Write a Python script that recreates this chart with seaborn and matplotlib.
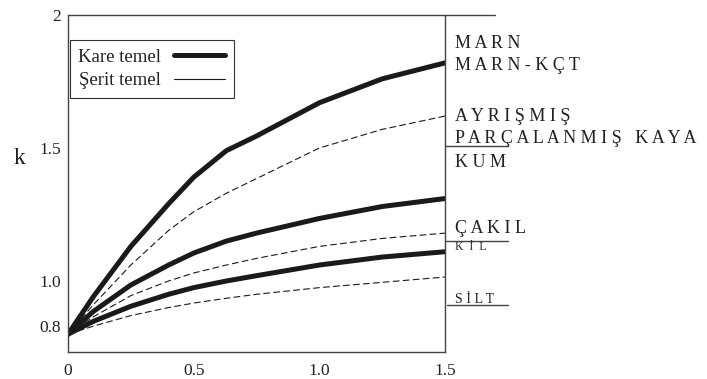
import matplotlib
matplotlib.use("Agg")
import matplotlib.pyplot as plt
import matplotlib.transforms as mtransforms
from matplotlib.lines import Line2D
import numpy as np
import pandas as pd
import seaborn as sns

# B/L orani (x) ve k degerleri
x = [0, 0.1, 0.25, 0.4, 0.5, 0.63, 0.75, 1.0, 1.25, 1.5]
kare_ust = [0.80, 0.94, 1.13, 1.29, 1.39, 1.49, 1.545, 1.67, 1.76, 1.82]
serit_ust = [0.80, 0.91, 1.06, 1.19, 1.26, 1.33, 1.385, 1.50, 1.57, 1.62]
kare_orta = [0.80, 0.885, 0.985, 1.06, 1.105, 1.15, 1.18, 1.235, 1.28, 1.31]
serit_orta = [0.80, 0.865, 0.945, 1.00, 1.03, 1.06, 1.085, 1.13, 1.16, 1.18]
kare_alt = [0.80, 0.848, 0.905, 0.95, 0.975, 1.00, 1.02, 1.06, 1.09, 1.11]
serit_alt = [0.80, 0.83, 0.87, 0.90, 0.917, 0.935, 0.95, 0.975, 0.995, 1.015]

seriler = {
    ("ust", "Kare temel"): kare_ust,
    ("ust", "Şerit temel"): serit_ust,
    ("orta", "Kare temel"): kare_orta,
    ("orta", "Şerit temel"): serit_orta,
    ("alt", "Kare temel"): kare_alt,
    ("alt", "Şerit temel"): serit_alt,
}

satirlar = []
for (grup, temel), vals in seriler.items():
    for xi, ki in zip(x, vals):
        satirlar.append({"x": xi, "k": ki, "seri": grup + temel, "temel": temel})
df = pd.DataFrame(satirlar)

# sag taraftaki zemin etiketleri
zemin_etiket = ["MARN", "MARN-KÇT", "AYRIŞMIŞ", "PARÇALANMIŞ KAYA", "KUM", "ÇAKIL"]
zemin_y = [1.876, 1.793, 1.602, 1.519, 1.429, 1.18]
kucuk_etiket = ["KİL", "SİLT"]
kucuk_y = [1.117, 0.917]
kucuk_boy = [8.5, 10]
kucuk_ara = ["  ", " "]

yticks = [0.8, 1.0, 1.5, 2.0]
ytick_labels = ["0.8", "1.0", "1.5", "2"]
xticks = [0, 0.5, 1.0, 1.5]
xtick_labels = ["0", "0.5", "1.0", "1.5"]

sns.set_style("white")
plt.rcParams["font.family"] = ["Liberation Serif", "DejaVu Serif"]

ink = "#1c1a18"
fig = plt.figure(figsize=(7.07, 3.79), dpi=100)
ax = fig.add_axes([0.0962, 0.0712, 0.5332, 0.8892])

sns.lineplot(data=df, x="x", y="k", units="seri", estimator=None,
             style="temel", size="temel",
             dashes={"Kare temel": "", "Şerit temel": (6, 3)},
             sizes={"Kare temel": 3.6, "Şerit temel": 0.8},
             color=ink, legend=False, ax=ax)

ax.set_xlim(0, 1.5)
ax.set_ylim(0.733, 2.0)
ax.set_xticks(xticks)
ax.set_xticklabels(xtick_labels)
ax.set_yticks(yticks)
ax.set_yticklabels(ytick_labels)
ax.tick_params(length=0, labelsize=12.5, colors="#222222")
ax.tick_params(axis="x", pad=8)
ax.tick_params(axis="y", pad=5)
ax.set_xlabel("")
ax.set_ylabel("")

# 0.8 etiketi biraz yukarida
lab08 = ax.get_yticklabels()[0]
lab08.set_transform(lab08.get_transform() +
                    mtransforms.ScaledTranslation(0, 6 / 72, fig.dpi_scale_trans))

for s in ["left", "right", "bottom"]:
    ax.spines[s].set_color("#444444")
    ax.spines[s].set_linewidth(1.0)
ax.spines["top"].set_visible(False)

# ust cizgi ve sag cizgiler
ax.plot([0, 1.70], [2.0, 2.0], color="#444444", lw=1.0, clip_on=False)
ax.plot([1.5, 1.75], [1.508, 1.508], color="#444444", lw=1.0, clip_on=False)
ax.plot([1.5, 1.75], [1.15, 1.15], color="#444444", lw=1.0, clip_on=False)
ax.plot([1.508, 1.75], [0.91, 0.91], color="#444444", lw=1.0, clip_on=False)

for lab, yy in zip(zemin_etiket, zemin_y):
    ax.text(1.539, yy, " ".join(lab), fontsize=13, color="#222222",
            va="baseline", ha="left", clip_on=False)
for lab, yy, fs, ara in zip(kucuk_etiket, kucuk_y, kucuk_boy, kucuk_ara):
    ax.text(1.539, yy, ara.join(lab), fontsize=fs, color="#222222",
            va="baseline", ha="left", clip_on=False)

fig.text(0.027, 0.583, "k", fontsize=17, color="#222222", ha="center", va="center")

handles = [Line2D([], [], color=ink, lw=3.6),
           Line2D([], [], color=ink, lw=0.8)]
leg = ax.legend(handles, ["Kare temel", "Şerit temel"], loc="upper left",
                bbox_to_anchor=(0.005, 0.926), markerfirst=False,
                fontsize=13.5, frameon=True, fancybox=False, framealpha=1,
                edgecolor="#333333", borderpad=0.45, handlelength=2.7,
                handletextpad=0.7, labelspacing=0.35, borderaxespad=0)
leg.get_frame().set_linewidth(0.8)
for t in leg.get_texts():
    t.set_color("#222222")

fig.savefig("out.png", dpi=100)
